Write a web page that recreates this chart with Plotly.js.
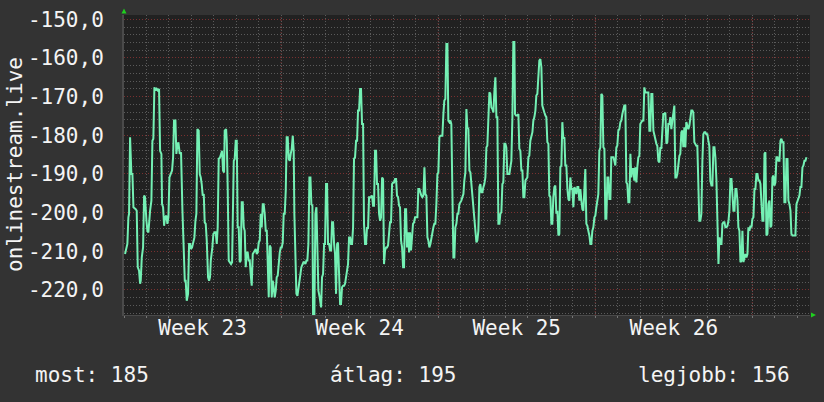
<!DOCTYPE html>
<html>
<head>
<meta charset="utf-8">
<script src="https://cdn.plot.ly/plotly-3.0.1.min.js"></script>
<style>
html,body{margin:0;padding:0;background:#333333;}
#chart{width:824px;height:402px;}
</style>
</head>
<body>
<div id="chart"></div>
<script>
// time in hours since Monday 00:00 of week 23; values as plotted (negative)
const hoursA = [1.1,2.6,3.6,4.7,5.4,6.5,7.9,9.0,10.1,12.5,13.6,14.7,16.1,17.2,17.9,19.0,20.4,21.5,22.5,24.0,25.0,26.1,26.8,27.9,29.3,30.4,31.4,32.5,33.9,35.0,36.1,37.5,38.6,40.0,40.7,41.8,42.9,43.9,45.3,46.4,47.5,48.6,50.0,51.4,52.5,53.5,55.0,56.0,57.1,58.2,59.6,61.0,62.5,63.9,65.0,66.0,67.1,68.5,69.6,70.7,71.7,72.8,73.9,75.3,76.4,77.4,78.5,79.9,81.0,82.1,83.1,84.2,85.3,86.3,87.4,88.5,89.9,91.0,92.0,92.8,94.5,95.6,97.0,98.1,99.2,100.2,101.3,102.7];
const valuesA = [-210.7,-209.0,-208.1,-201.2,-200.3,-180.5,-190.0,-190.0,-198.6,-199.1,-199.5,-214.1,-215.0,-218.4,-217.6,-211.6,-209.0,-195.6,-196.0,-202.1,-204.7,-205.1,-201.2,-199.5,-196.9,-181.4,-180.9,-167.6,-168.4,-168.0,-168.4,-168.0,-184.0,-184.8,-197.8,-198.6,-203.4,-201.2,-200.8,-202.9,-201.2,-190.9,-190.0,-189.1,-185.7,-176.2,-176.2,-184.8,-182.7,-181.8,-184.8,-184.4,-199.5,-207.2,-217.6,-217.6,-222.8,-221.0,-208.1,-208.1,-209.4,-209.0,-207.7,-206.4,-202.1,-200.3,-178.4,-178.8,-190.0,-190.9,-192.6,-195.6,-195.2,-202.5,-202.9,-207.2,-216.7,-217.6,-216.7,-212.4,-209.0,-205.5,-205.1,-205.1,-208.1,-203.8,-186.1,-185.7];

const hoursB = [104.9,105.9,107.0,107.7,109.2,109.9,110.9,112.0,113.1,114.5,115.6,116.6,117.4,118.4,119.5,120.6,121.6,122.7,123.8,124.8,125.9,127.0,128.1,129.1,130.2,131.3,132.3,133.4,134.5,135.5,136.6,137.7,138.7,139.8,140.9,142.0,143.0,144.1,145.2,146.2,147.3,148.4,149.4,150.5,151.6,152.7,153.7,154.8,155.9,156.9,158.0,159.1,160.1,161.2,162.3,163.3,164.4,165.5,166.6,167.6,168.7,169.8,170.8,171.9,173.0,174.0,175.1,176.2,177.3,178.3,179.4,180.5,181.5,182.2,183.3,184.4,185.5,186.5,187.6,188.7,189.7,190.8,191.9,192.9,194.0,195.1,196.1,197.2,198.3,199.4,200.4,201.5,202.2,203.6,204.7,205.8];
const valuesB = [-184.0,-189.1,-189.6,-178.8,-178.4,-181.4,-193.4,-212.4,-212.8,-213.3,-212.8,-186.6,-186.6,-186.1,-181.4,-181.4,-203.8,-203.8,-212.8,-212.4,-197.3,-197.3,-203.8,-204.7,-214.1,-210.3,-210.3,-212.4,-212.4,-215.9,-218.9,-210.7,-210.3,-209.8,-209.4,-210.7,-210.3,-207.7,-207.2,-200.3,-203.8,-197.8,-197.8,-200.3,-204.7,-204.7,-215.9,-221.9,-208.5,-209.0,-221.9,-217.6,-219.3,-221.9,-220.2,-216.7,-216.3,-211.6,-210.3,-209.0,-209.0,-207.7,-200.3,-200.3,-194.3,-180.5,-180.5,-186.1,-186.6,-184.8,-183.5,-180.1,-184.0,-200.3,-216.7,-221.0,-221.5,-219.3,-216.7,-215.9,-214.1,-213.3,-212.8,-212.8,-213.3,-212.4,-212.4,-208.1,-190.9,-190.9,-197.8,-198.2,-226.2,-226.2,-200.3,-198.6];

const hoursC = [207.9,209.3,210.8,211.8,212.9,214.0,215.0,216.1,217.2,218.2,219.3,220.4,221.5,222.5,223.6,224.7,225.7,226.8,227.9,228.9,230.0,231.1,232.1,233.2,234.3,235.4,236.4,237.5,238.6,239.6,240.7,241.8,242.8,243.9,245.0,246.0,247.1,248.2,249.3,250.3,251.4,252.5,253.5,254.6,255.7,256.7,257.8,258.9,259.9,261.0,262.1,263.2,264.2,265.3,266.4,267.4,268.5,269.6,270.6,271.7,272.8,273.9,274.9,276.0,277.1,278.1,279.2,280.3,281.3,282.4,283.5,284.5,285.6,286.7,287.8,288.8,289.9,291.0,292.0,293.1,294.2,295.2,296.3,297.4,298.5,299.5,300.6,301.7,302.7,303.8,304.9,305.9,307.0,308.1,309.1,310.2,311.3];
const valuesC = [-220.2,-221.9,-224.5,-216.7,-215.9,-208.1,-208.1,-192.6,-192.6,-208.1,-208.1,-209.8,-209.8,-202.5,-202.5,-208.1,-210.7,-221.0,-208.1,-207.7,-215.9,-223.6,-223.6,-219.3,-218.9,-218.9,-218.4,-216.7,-214.1,-213.3,-206.4,-206.4,-208.1,-208.1,-203.8,-186.1,-185.7,-181.4,-181.4,-173.6,-173.6,-168.0,-168.0,-177.1,-177.1,-202.9,-208.1,-208.1,-203.8,-204.2,-196.0,-196.0,-196.0,-195.6,-198.2,-198.2,-184.0,-184.0,-192.6,-192.6,-200.3,-202.1,-201.2,-190.9,-191.3,-213.3,-209.8,-209.0,-209.0,-208.5,-204.7,-202.5,-202.5,-192.6,-192.2,-192.2,-191.3,-191.3,-195.6,-196.0,-198.2,-198.6,-207.2,-209.0,-214.1,-214.1,-199.1,-199.1,-209.0,-205.1,-210.3,-205.1,-209.8,-204.7,-202.9,-202.5,-201.2];

const hoursD = [313.8,314.8,315.9,317.0,318.0,319.1,320.2,321.3,322.3,323.4,324.5,325.5,326.6,327.7,328.7,329.8,330.9,331.9,333.0,334.1,335.2,336.2,337.3,338.4,339.4,340.5,341.6,342.6,343.7,344.8,345.9,346.9,348.0,349.1,350.1,351.2,352.3,353.3,354.4,355.5,356.6,357.6,358.7,359.8,360.8,361.9,363.0,364.0,365.1,366.2,367.2,368.3,369.4,370.5,371.5,372.6,373.7,374.7,375.8,376.9,377.9,379.0,380.1,381.1,382.2,383.3,384.4,385.4,386.5,387.6,388.6,389.7,390.8,391.8,392.9,394.0,395.1,396.1,397.2,398.3,399.3,400.4,401.5,402.5,403.6,404.7,405.7,406.8,407.9,408.9,410.0,411.1,412.2,413.2,414.3,415.4,416.4,417.5];
const valuesD = [-201.2,-193.9,-193.9,-195.2,-195.6,-196.0,-195.6,-188.3,-195.2,-195.6,-206.4,-207.2,-209.0,-208.1,-206.4,-204.7,-203.8,-202.9,-202.9,-197.8,-190.0,-189.6,-180.5,-180.1,-180.1,-180.1,-174.5,-171.0,-170.6,-156.4,-156.4,-176.2,-176.6,-176.2,-177.1,-200.3,-211.6,-211.6,-203.8,-202.9,-200.3,-200.3,-197.8,-197.3,-196.9,-196.0,-195.2,-191.7,-189.6,-173.2,-177.9,-178.4,-189.1,-189.6,-192.6,-195.2,-200.3,-201.2,-204.7,-207.7,-207.2,-204.7,-193.4,-192.6,-194.7,-194.7,-193.4,-192.6,-190.9,-183.1,-182.7,-174.5,-168.9,-169.3,-172.8,-173.2,-174.1,-168.9,-165.0,-175.3,-175.3,-202.9,-202.9,-200.3,-199.9,-192.6,-192.2,-182.2,-182.2,-183.1,-190.0,-190.0,-190.0,-188.3,-186.6,-175.3,-155.9,-155.9];

const hoursE = [418.2,419.3,420.7,421.8,422.8,423.9,425.0,426.1,427.1,428.2,429.3,430.3,431.4,432.5,433.5,434.6,435.7,436.8,437.8,438.9,440.0,441.0,442.1,443.2,444.2,445.3,446.4,447.4,448.5,449.6,450.7,451.7,452.8,453.9,454.9,456.0,457.1,458.1,459.2,460.3,461.3,462.4,463.5,464.6,465.6,466.7,467.8,468.8,469.9,471.0,472.0,473.1,474.2,475.3,476.3,477.4,478.5,479.5,480.6,481.7,482.7,483.8,484.9,485.9,487.0,488.1,489.2,490.2,491.3,492.4,493.4,494.5,495.6,496.6,497.7,498.8,499.8,500.9,502.0,503.1,504.1,505.2,506.3,507.3,508.4,509.5,510.5,511.6,512.7,513.8,514.8,515.9,517.0,518.0,519.1,520.2,521.2,522.3];
const valuesE = [-174.5,-174.9,-174.9,-174.5,-183.5,-184.0,-189.1,-189.1,-196.0,-196.0,-191.7,-191.3,-190.9,-185.7,-185.3,-181.4,-179.7,-179.2,-176.2,-175.3,-173.6,-169.7,-169.3,-162.4,-160.7,-160.3,-162.4,-172.3,-173.6,-174.1,-174.9,-175.3,-181.8,-182.2,-195.6,-196.0,-202.9,-202.9,-196.0,-193.4,-193.0,-200.3,-199.5,-205.9,-205.5,-188.3,-187.8,-176.6,-180.9,-180.5,-187.8,-187.8,-193.9,-196.5,-196.9,-190.9,-193.9,-193.9,-198.6,-193.4,-193.9,-195.2,-193.4,-193.4,-196.9,-193.9,-196.9,-199.1,-199.5,-193.4,-188.7,-202.9,-203.4,-204.7,-205.9,-208.1,-208.1,-204.7,-203.8,-201.2,-200.8,-198.6,-196.0,-195.2,-184.0,-183.1,-169.3,-169.7,-183.1,-183.5,-201.6,-201.6,-190.9,-190.9,-196.5,-196.5,-185.7,-185.7];

const hoursF = [523.4,524.4,525.5,526.6,527.6,528.7,529.8,530.9,531.9,533.0,534.1,535.1,536.2,537.3,538.3,539.4,540.5,541.6,542.6,543.7,544.8,545.8,546.9,548.0,549.0,550.1,551.2,552.2,553.3,554.4,555.5,556.5,557.6,558.7,559.7,560.8,561.9,562.9,564.0,565.1,566.2,567.2,568.3,569.4,570.4,571.5,572.6,573.6,574.7,575.8,576.8,577.9,579.0,580.1,581.1,582.2,583.3,584.3,585.4,586.5,587.5,588.6,589.7,590.8,591.8,592.9,594.0,595.0,596.1,597.2,598.2,599.3,600.4,601.4,602.5,603.6,604.7,605.7,606.8,607.9,608.9,610.0,611.1,612.1,613.2,614.3,615.3,616.4,617.5,618.6,619.6,620.7,621.8,622.8,623.9,625.0,626.0,627.1];
const valuesF = [-185.7,-186.6,-187.8,-183.1,-182.7,-178.8,-178.4,-176.6,-176.2,-174.5,-173.6,-172.3,-172.3,-192.2,-192.6,-197.3,-197.3,-184.8,-190.9,-188.7,-188.7,-191.7,-188.3,-192.2,-188.3,-185.7,-185.3,-177.1,-176.6,-176.2,-176.2,-167.6,-168.9,-168.9,-168.9,-168.9,-178.8,-178.8,-169.3,-169.3,-178.8,-180.1,-181.4,-182.2,-182.7,-186.6,-187.0,-183.1,-183.5,-177.9,-174.5,-174.5,-174.1,-182.2,-181.8,-177.1,-177.1,-175.3,-178.4,-176.2,-174.5,-172.3,-190.9,-190.9,-190.0,-187.0,-185.3,-184.8,-179.2,-178.8,-183.1,-177.9,-183.1,-176.6,-177.9,-178.4,-177.5,-175.3,-173.6,-173.6,-174.1,-181.8,-182.2,-182.7,-182.7,-191.7,-202.1,-202.1,-200.3,-186.6,-179.7,-179.2,-179.2,-179.7,-179.7,-181.4,-182.7,-191.7];

const hoursG = [628.3,629.3,630.4,631.5,632.5,633.6,634.7,635.8,636.8,637.9,639.0,640.0,641.1,642.2,643.2,644.3,645.4,646.5,647.5,648.6,649.7,650.7,651.8,652.9,653.9,655.0,656.1,657.1,658.2,659.3,660.4,661.4,662.5,663.6,664.6,665.7,666.8,667.8,668.9,670.0,671.1,672.1,673.2,674.3,675.3,676.4,677.5,678.5,679.6,680.7,681.7,682.8,683.9,685.0,686.0,687.1,688.2,689.2,690.3,691.4,692.4,693.5,694.6,695.6,696.7,697.8,698.9,699.9,701.0,702.1,703.1,704.2,705.3,706.3,707.4,708.5,709.6,710.6,711.7,712.8,713.8,714.9,716.0,717.0,718.1,719.2,720.2,721.3,722.4,723.4,724.5,725.6,726.7,727.7,728.8,729.9];
const valuesG = [-193.0,-193.0,-183.1,-183.1,-185.7,-191.7,-208.1,-213.3,-206.4,-208.1,-208.1,-202.9,-202.5,-202.5,-203.8,-203.8,-203.4,-202.1,-199.5,-191.3,-191.3,-195.2,-199.5,-199.5,-193.9,-193.9,-196.9,-203.8,-204.7,-212.8,-212.4,-204.7,-212.8,-211.6,-210.7,-211.6,-210.7,-203.8,-204.7,-203.4,-203.8,-201.6,-201.2,-193.9,-193.9,-190.0,-190.0,-191.7,-191.7,-192.6,-196.9,-202.1,-202.1,-184.8,-184.4,-205.9,-205.5,-197.8,-196.9,-203.8,-203.4,-190.9,-190.4,-193.0,-192.2,-185.7,-185.7,-186.6,-186.6,-181.4,-180.9,-181.8,-181.8,-197.3,-197.3,-186.1,-186.1,-196.9,-197.8,-199.5,-205.5,-205.9,-205.9,-205.9,-205.9,-197.8,-196.9,-196.0,-195.6,-193.4,-193.4,-188.3,-187.8,-186.6,-186.6,-185.7];

const yTickVals = [-150,-160,-170,-180,-190,-200,-210,-220];
const yTickText = ['-150,0','-160,0','-170,0','-180,0','-190,0','-200,0','-210,0','-220,0'];
const weekStartHours = [168,336,504,672];
const weekMidHours = [84,252,420,588];
const weekLabels = ['Week 23','Week 24','Week 25','Week 26'];
const yAxisLabel = 'onlinestream.live';
const legendLabels = ['most','átlag','legjobb'];
const legendValues = [185,195,156];

const hours = [].concat(hoursA,hoursB,hoursC,hoursD,hoursE,hoursF,hoursG);
const values = [].concat(valuesA,valuesB,valuesC,valuesD,valuesE,valuesF,valuesG);

const W = 824, H = 402;
const M = {l:124, r:14, t:15, b:87};
const pw = W - M.l - M.r, ph = H - M.t - M.b;
const px = x => (x - M.l) / pw;
const py = y => (M.t + ph - y) / ph;
const xRange = [0, pw * 24 / 22.44];

const FONT = 'DejaVu Sans Mono, monospace';
const TXT = '#f4f4f4';
const MAJOR = '#7a3030';
const MINOR = '#5a5a5a';

const trace = {
  x: hours, y: values, type: 'scatter', mode: 'lines',
  line: {color: '#74f0b4', width: 2},
  hoverinfo: 'skip'
};

const legendX = [33, 328, 636];
const annotations = legendLabels.map((lab, i) => ({
  xref: 'paper', yref: 'paper', x: px(legendX[i]), y: py(375),
  xanchor: 'left', yanchor: 'middle', showarrow: false,
  text: lab + ': ' + legendValues[i],
  font: {family: FONT, size: 21, color: TXT}
}));
annotations.push({
  xref: 'paper', yref: 'paper', x: px(15), y: py(165),
  xanchor: 'center', yanchor: 'middle', showarrow: false, textangle: -90,
  text: yAxisLabel, font: {family: FONT, size: 21, color: TXT}
});

// week-boundary (major) vertical grid lines
const shapes = weekStartHours.map(h => ({
  type: 'line', xref: 'x', yref: 'paper', x0: h, x1: h, y0: 0, y1: 1,
  layer: 'between', line: {color: MAJOR, width: 1, dash: '1px,2px'}
}));
const arrowColor = '#1fd01f';
shapes.push(
  {type: 'path', xref: 'paper', yref: 'paper', fillcolor: arrowColor, line: {width: 0},
   path: `M ${px(121.5)} ${py(13.5)} L ${px(124)} ${py(8.5)} L ${px(126.5)} ${py(13.5)} Z`},
  {type: 'path', xref: 'paper', yref: 'paper', fillcolor: arrowColor, line: {width: 0},
   path: `M ${px(811)} ${py(312.5)} L ${px(816)} ${py(315)} L ${px(811)} ${py(317.5)} Z`}
);

const layout = {
  width: W, height: H, margin: M,
  paper_bgcolor: '#333333', plot_bgcolor: '#212121',
  showlegend: false,
  font: {family: FONT, size: 21, color: TXT},
  xaxis: {
    range: xRange,
    tickmode: 'array', tickvals: weekMidHours, ticktext: weekLabels,
    ticks: '', ticklabelstandoff: -6,
    showgrid: false,
    minor: {tick0: 0, dtick: 24, showgrid: true, gridcolor: MINOR, griddash: '1px,2px',
            ticks: 'outside', ticklen: 2, tickcolor: '#777777'},
    showline: true, linecolor: '#4a4a4a', linewidth: 1,
    zeroline: false, fixedrange: true,
    tickfont: {family: FONT, size: 21, color: TXT}
  },
  yaxis: {
    range: [-226.47, -148.89],
    tickmode: 'array', tickvals: yTickVals, ticktext: yTickText,
    ticks: '', ticklabelstandoff: 14,
    showgrid: true, gridcolor: MAJOR, griddash: '1px,2px', gridwidth: 1,
    minor: {tick0: -150, dtick: 2, showgrid: true, gridcolor: MINOR, griddash: '1px,2px'},
    showline: true, linecolor: '#4a4a4a', linewidth: 2,
    zeroline: false, fixedrange: true,
    tickfont: {family: FONT, size: 21, color: TXT}
  },
  annotations: annotations,
  shapes: shapes
};

Plotly.newPlot('chart', [trace], layout, {staticPlot: true, displayModeBar: false});
</script>
</body>
</html>
